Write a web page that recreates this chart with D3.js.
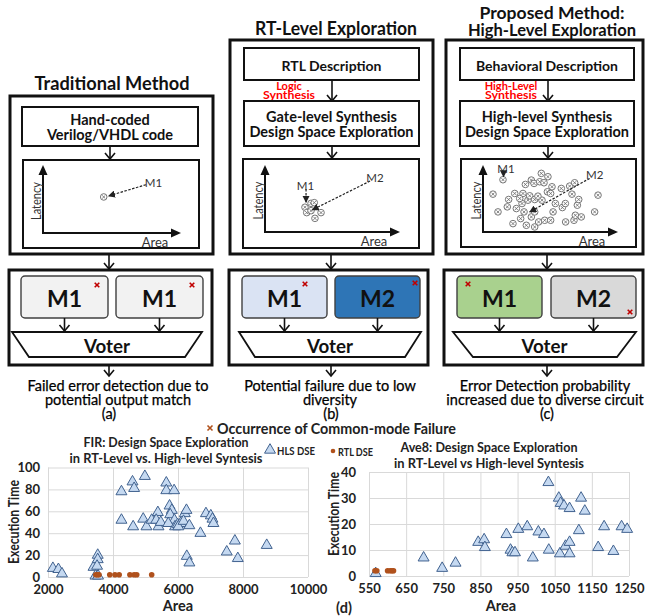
<!DOCTYPE html>
<html>
<head>
<meta charset="utf-8">
<script src="https://cdn.jsdelivr.net/npm/d3@7"></script>
<style>
  body { margin: 0; background: #fff; }
  svg { display: block; }
</style>
</head>
<body>
<div id="chart"></div>
<script>
// ---------------- data ----------------
// diagram texts, one entry per panel (a), (b), (c)
const panelTitles = [["Traditional Method"], ["RT-Level Exploration"], ["Proposed Method:", "High-Level Exploration"]];
const specLabels = [null, "RTL Description", "Behavioral Description"];
const synthLabels = [null, ["Logic", "Synthesis"], ["High-Level", "Synthesis"]];
const dseLabels = [["Hand-coded", "Verilog/VHDL code"], ["Gate-level Synthesis", "Design Space Exploration"], ["High-level Synthesis", "Design Space Exploration"]];
const moduleLabels = [["M1", "M1"], ["M1", "M2"], ["M1", "M2"]];
const captions = [["Failed error detection due to", "potential output match"], ["Potential failure due to low", "diversity"], ["Error Detection probability", "increased due to diverse circuit"]];
const panelTags = ["(a)", "(b)", "(c)"];

// sketch design points in the small area/latency plots (arbitrary 0-100 units)
const sketchA = [[44, 53]];
const sketchB = [[29.6, 37], [34.1, 42.8], [36.5, 43.8], [30.9, 28.9], [34.1, 31.8], [41.5, 28.9], [37, 20.4]];
const sketchC = [[14.8, 78], [7.4, 56.5], [11.1, 30], [18, 37.5], [19, 48.5], [23.5, 57.5], [24.7, 35], [22.2, 12.5],
  [27.9, 20], [29.6, 57.5], [28.9, 42.5], [31.4, 71], [33.3, 47.5], [34.6, 54], [35.8, 77.5], [37.8, 72.5],
  [38.3, 7.5], [41.2, 15], [43.2, 87.5], [42, 75], [45.2, 73.5], [43.7, 47.5], [38.3, 48.5], [40.7, 53.5],
  [45.7, 17.5], [48.1, 82.5], [50.1, 17.5], [51.1, 67.5], [51.9, 30], [47.7, 60], [50.1, 57.5], [53.6, 42.5],
  [58, 65], [58.8, 36.5], [61, 42.5], [61.2, 15], [64.2, 68.5], [65.9, 56.5], [67.4, 17.5], [67.9, 73.5],
  [69.9, 40], [70.9, 48.5], [68.4, 25], [72.8, 22.5], [82.7, 30], [85.2, 55], [32.1, 10], [35.8, 22.5],
  [30.4, 30], [38.3, 30], [27.2, 50]];

// FIR design space exploration: [area, execution time]
const firHLS = [[2150, 8], [2320, 7], [2430, 3],
  [3400, 9], [3530, 20], [3530, 16], [3510, 10], [3460, 1], [3540, 1],
  [4260, 78], [4260, 52], [4600, 87], [4650, 81], [4620, 46],
  [4980, 92], [4930, 53], [5030, 46], [5190, 52], [5380, 59], [5330, 52], [5400, 46], [5470, 50],
  [5640, 86], [5640, 79], [5880, 79],
  [5740, 65], [5810, 61], [5760, 57], [5890, 52], [5700, 49], [5910, 46], [5990, 48], [6080, 49], [6010, 46],
  [6210, 58], [6260, 61], [6170, 51], [6350, 47], [6690, 40],
  [6860, 58], [7010, 56], [7060, 53], [7090, 49],
  [7500, 23], [7750, 33], [7840, 17], [8730, 29], [6270, 19], [6350, 13]];
const firRTL = [[3470, 2], [3520, 2], [3570, 2], [3900, 2], [4060, 2], [4190, 2], [4520, 2], [4650, 2], [4730, 2], [5190, 2]];
const firXTicks = [2000, 4000, 6000, 8000, 10000];
const firYTicks = [0, 20, 40, 60, 80, 100];

// Ave8 design space exploration: [area, execution time]
const aveHLS = [[568, 1], [697, 7], [747, 3], [783, 5], [844, 13], [860, 14], [862, 11], [920, 16], [931, 10],
  [936, 9], [943, 9], [952, 18], [976, 19], [1006, 17], [1021, 16], [991, 7], [1034, 10], [1033, 36],
  [1061, 30], [1066, 28], [1075, 27], [1090, 26], [1121, 30], [1131, 25], [1115, 17.5], [1064, 8.6],
  [1079, 11.5], [1090, 13], [1090, 8.6], [1167, 11], [1183, 19], [1208, 9.5], [1230, 19], [1245, 18]];
const aveRTL = [[566, 2], [571, 2], [600, 2], [607, 2], [612, 2], [616, 2]];
const aveXTicks = [550, 650, 750, 850, 950, 1050, 1150, 1250];
const aveYTicks = [0, 10, 20, 30, 40];

const legendLabels = ["HLS DSE", "RTL DSE"];
const failureLabel = "Occurrence of Common-mode Failure";

// ---------------- layout & style ----------------
const W = 646, H = 616;
const FONT = 'Lato, "Open Sans", "DejaVu Sans", sans-serif';
const moduleFills = [["#f2f2f2", "#f2f2f2"], ["#dae3f3", "#2e75b6"], ["#a9d18e", "#d9d9d9"]];
const crossColor = "#c00000";

const layout = [
  { cx: 110, titleY: [83], titleW: [155], outer: [10, 96, 203, 158], spec: null, dse: [22, 107, 176, 39],
    plot: [23, 160, 176, 88], origin: [43, 233], tip: [181, 165],
    voter: [9, 270, 203, 95], mods: [21, 116], modW: 87, trap: [12, 202, 29, 185], capCx: 118,
    crosses: [["tr", -11, 9], ["tr", -11, 9]] },
  { cx: 332, titleY: [28], titleW: [162], outer: [230, 40, 203, 214], spec: [244, 48, 175, 32], synthCx: 289,
    dse: [244, 101, 175, 45], plot: [243, 159, 176, 89], origin: [265, 232], tip: [400, 165],
    voter: [229, 270, 199, 95], mods: [242, 335], modW: 85, trap: [239, 421, 255, 405], capCx: 330,
    crosses: [["tr", -22, 8], ["tr", -5, 7]] },
  { cx: 548, titleY: [12, 29], titleW: [145, 168], outer: [446, 40, 197, 214], spec: [460, 48, 174, 32], synthCx: 511,
    dse: [460, 101, 174, 45], plot: [461, 159, 175, 88], origin: [483, 232], tip: [618, 165],
    voter: [444, 270, 199, 95], mods: [457, 551], modW: 85, trap: [453, 636, 473, 617], capCx: 545,
    crosses: [["tl", 11, 8], ["br", -6, -6]] }
];

const svg = d3.select("#chart").append("svg")
  .attr("width", W).attr("height", H)
  .style("font-family", FONT);

// arrow head for the dashed pointer lines
svg.append("defs").append("marker")
  .attr("id", "head").attr("viewBox", "0 0 10 10").attr("refX", 9).attr("refY", 5)
  .attr("markerWidth", 6).attr("markerHeight", 6).attr("orient", "auto")
  .append("path").attr("d", "M0,0L10,5L0,10z").attr("fill", "#222");

function label(g, x, y, str, o = {}) {
  const t = g.append("text")
    .attr("x", x).attr("y", y)
    .attr("text-anchor", o.anchor || "middle")
    .attr("dominant-baseline", "central")
    .attr("fill", o.color || "#111")
    .style("font-size", (o.size || 13) + "px")
    .style("font-weight", o.weight || "normal")
    .text(str);
  if (o.width) t.attr("textLength", o.width).attr("lengthAdjust", "spacingAndGlyphs");
  if (o.rotate) t.attr("transform", `rotate(-90,${x},${y})`);
  return t;
}

function box(g, r, sw, fill, rx) {
  return g.append("rect").attr("x", r[0]).attr("y", r[1]).attr("width", r[2]).attr("height", r[3])
    .attr("rx", rx || 0).attr("fill", fill || "#fff").attr("stroke", "#111").attr("stroke-width", sw);
}

// down arrow with an open "v" head
function downArrow(g, x, y1, y2) {
  g.append("line").attr("x1", x).attr("x2", x).attr("y1", y1).attr("y2", y2)
    .attr("stroke", "#111").attr("stroke-width", 1.6);
  g.append("path").attr("d", `M${x - 5},${y2 - 6}L${x},${y2}L${x + 5},${y2 - 6}`)
    .attr("fill", "none").attr("stroke", "#111").attr("stroke-width", 1.6);
}

function cross(g, x, y, s, color, sw) {
  g.append("path").attr("d", `M${x - s},${y - s}L${x + s},${y + s}M${x - s},${y + s}L${x + s},${y - s}`)
    .attr("stroke", color).attr("stroke-width", sw);
}

function sketchPoint(g, x, y) {
  g.append("circle").attr("cx", x).attr("cy", y).attr("r", 3.3)
    .attr("fill", "#fff").attr("stroke", "#666").attr("stroke-width", 0.9);
  cross(g, x, y, 1.6, "#666", 0.8);
}

// ---------------- top diagram ----------------
layout.forEach((p, i) => {
  const g = svg.append("g");
  panelTitles[i].forEach((t, k) => label(g, p.cx + (i === 0 ? 2 : 4), p.titleY[k], t,
    { size: panelTitles[i].length > 1 ? 17 : 18, weight: "bold", width: p.titleW[k] }));

  box(g, p.outer, 3);
  if (p.spec) {
    box(g, p.spec, 2);
    label(g, p.spec[0] + p.spec[2] / 2, p.spec[1] + p.spec[3] / 2 + 1, specLabels[i], { size: 14, weight: "bold" });
    downArrow(g, p.cx, p.spec[1] + p.spec[3], p.dse[1]);
    label(g, p.synthCx, 85, synthLabels[i][0], { size: 11, weight: "bold", color: "#ff0000" });
    label(g, p.synthCx, 94.5, synthLabels[i][1], { size: 11, weight: "bold", color: "#ff0000", width: 52 });
  }
  box(g, p.dse, 2);
  const dy = p.dse[3] / 2;
  label(g, p.dse[0] + p.dse[2] / 2, p.dse[1] + dy - 7, dseLabels[i][0], { size: 14.5, weight: "bold" });
  label(g, p.dse[0] + p.dse[2] / 2, p.dse[1] + dy + 8, dseLabels[i][1], { size: 14.5, weight: "bold" });
  downArrow(g, p.cx, p.dse[1] + p.dse[3], p.plot[1] - 1);

  // small area / latency sketch
  box(g, p.plot, 2);
  const [ox, oy] = p.origin, [tx, ty] = p.tip;
  const sx = d3.scaleLinear().domain([0, 100]).range([ox, tx]);
  const sy = d3.scaleLinear().domain([0, 100]).range([oy, ty]);
  g.append("path").attr("d", `M${ox},${ty + 8}V${oy}H${tx - 8}`)
    .attr("fill", "none").attr("stroke", "#111").attr("stroke-width", 2);
  g.append("path").attr("d", `M${ox - 4.5},${ty + 10}L${ox},${ty}L${ox + 4.5},${ty + 10}z`).attr("fill", "#111");
  g.append("path").attr("d", `M${tx - 10},${oy - 4.5}L${tx},${oy}L${tx - 10},${oy + 4.5}z`).attr("fill", "#111");
  label(g, ox - 7, (oy + ty) / 2 + 2, "Latency", { size: 13, rotate: true, color: "#333", width: 38 });
  label(g, tx - 26, oy + 9, "Area", { size: 13, color: "#333" });

  const pts = [sketchA, sketchB, sketchC][i];
  pts.forEach(d => sketchPoint(g, sx(d[0]), sy(d[1])));

  const dash = (a, b) => g.append("line")
    .attr("x1", sx(a[0])).attr("y1", sy(a[1])).attr("x2", sx(b[0])).attr("y2", sy(b[1]))
    .attr("stroke", "#222").attr("stroke-width", 1.2).attr("stroke-dasharray", "2.5,1.5")
    .attr("marker-end", "url(#head)");
  const mLabel = (d, t) => label(g, sx(d[0]), sy(d[1]), t, { size: 11.5, color: "#333" });
  if (i === 0) {
    mLabel([80, 75], "M1");
    dash([74.6, 71], [47.5, 54.5]);
  } else if (i === 1) {
    mLabel([30, 70], "M1");
    dash([30.4, 64], [30.4, 44.5]);
    mLabel([81.5, 82], "M2");
    dash([77.8, 76], [35, 33]);
  } else {
    mLabel([17, 95.5], "M1");
    dash([15.2, 89], [15.2, 82.5]);
    mLabel([82.7, 86], "M2");
    dash([79, 80], [34.6, 30]);
  }

  // voter section
  downArrow(g, p.cx - 1, p.outer[1] + p.outer[3] + 1, p.voter[1] - 1);
  box(g, p.voter, 3);
  const my = p.voter[1] + 6, mh = 42;
  p.mods.forEach((mx, k) => {
    box(g, [mx, my, p.modW, mh], 1.4, moduleFills[i][k], 4).attr("stroke", "#404040");
    label(g, mx + p.modW / 2, my + mh / 2 + 1, moduleLabels[i][k], { size: 23, weight: "bold" });
    const c = p.crosses[k];
    const cx = c[0].endsWith("r") ? mx + p.modW + c[1] : mx + c[1];
    const cy = c[0].startsWith("b") ? my + mh + c[2] : my + c[2];
    cross(g, cx, cy, 2.3, crossColor, 1.6);
    downArrow(g, mx + p.modW / 2, my + mh, 331);
  });
  const [t1, t2, b1, b2] = p.trap;
  g.append("path").attr("d", `M${t1},332L${t2},332L${b2},357L${b1},357z`)
    .attr("fill", "#fff").attr("stroke", "#111").attr("stroke-width", 1.8);
  label(g, (t1 + t2) / 2, 345, "Voter", { size: 19, weight: "bold", width: 46 });

  downArrow(g, p.cx - 1, p.voter[1] + p.voter[3] + 1, 376);
  label(g, p.capCx, 385, captions[i][0], { size: 14.5, color: "#000" }).style("stroke", "#000").style("stroke-width", 0.25);
  label(g, p.capCx, 399, captions[i][1], { size: 14.5, color: "#000" }).style("stroke", "#000").style("stroke-width", 0.25);
  label(g, p.cx - 1, 413, panelTags[i], { size: 14.5, color: "#000" }).style("stroke", "#000").style("stroke-width", 0.25);
});

// ---------------- bottom scatter charts ----------------
function scatterChart(o) {
  const x = d3.scaleLinear().domain(o.xDomain).range(o.xRange);
  const y = d3.scaleLinear().domain(o.yDomain).range(o.yRange);
  const w = o.xRange[1] - o.xRange[0], h = o.yRange[0] - o.yRange[1];
  const g = svg.append("g");

  g.append("g").attr("transform", `translate(${o.xRange[0]},0)`)
    .call(d3.axisLeft(y).tickValues(o.yTicks).tickSize(-w).tickPadding(o.yPad).tickFormat(d3.format("d")));
  g.append("g").attr("transform", `translate(0,${o.yRange[0]})`)
    .call(d3.axisBottom(x).tickValues(o.xTicks).tickSize(-h).tickPadding(8).tickFormat(d3.format("d")));
  g.selectAll(".domain").remove();
  g.selectAll(".tick line").attr("stroke", "#d9d9d9");
  g.selectAll(".tick text").attr("fill", "#222")
    .style("font-family", FONT).style("font-size", "13px").style("font-weight", "bold");

  const tri = d3.symbol(d3.symbolTriangle, 52);
  g.append("g").selectAll("path").data(o.hls).join("path")
    .attr("d", tri)
    .attr("transform", d => `translate(${x(d[0])},${y(d[1])})`)
    .attr("fill", "#c5d9f1").attr("stroke", "#41628f").attr("stroke-width", 1);
  g.append("g").selectAll("circle").data(o.rtl).join("circle")
    .attr("cx", d => x(d[0])).attr("cy", d => y(d[1])).attr("r", 2.8)
    .attr("fill", "#b0511c");

  label(g, o.titleCx, o.titleY, o.title[0], { size: 14, weight: "bold", width: o.titleW[0], color: "#222" });
  label(g, o.titleCx, o.titleY + 16, o.title[1], { size: 14, weight: "bold", width: o.titleW[1], color: "#222" });
  label(g, o.yLabelX, o.yLabelY, "Execution Time", { size: 14.5, weight: "bold", rotate: true, width: 84, color: "#222" });
  label(g, o.xLabelCx, 605, "Area", { size: 14.5, weight: "bold", color: "#222" });
  return { x, y, g };
}

scatterChart({
  xDomain: [2000, 10000], xRange: [48, 308], yDomain: [0, 100], yRange: [577, 467.5],
  xTicks: firXTicks, yTicks: firYTicks, yPad: 8, hls: firHLS, rtl: firRTL,
  title: ["FIR: Design Space Exploration", "in  RT-Level vs. High-level Syntesis"], titleW: [165, 193],
  titleCx: 166, titleY: 441, yLabelX: 13, yLabelY: 522, xLabelCx: 178
});
scatterChart({
  xDomain: [550, 1250], xRange: [369, 629], yDomain: [0, 40], yRange: [576, 472],
  xTicks: aveXTicks, yTicks: aveYTicks, yPad: 13, hls: aveHLS, rtl: aveRTL,
  title: ["Ave8: Design Space Exploration", "in  RT-Level vs High-level Syntesis"], titleW: [177, 190],
  titleCx: 489, titleY: 446, yLabelX: 333, yLabelY: 514, xLabelCx: 501
});

// legend and shared note
const lg = svg.append("g");
lg.append("path").attr("d", d3.symbol(d3.symbolTriangle, 52)).attr("transform", "translate(270,450)")
  .attr("fill", "#c5d9f1").attr("stroke", "#41628f");
label(lg, 277, 450, legendLabels[0], { size: 12, weight: "bold", anchor: "start", width: 38, color: "#222" });
lg.append("circle").attr("cx", 333).attr("cy", 451).attr("r", 2.3).attr("fill", "#b0511c");
label(lg, 338, 451, legendLabels[1], { size: 12, weight: "bold", anchor: "start", width: 35, color: "#222" });
cross(lg, 210, 428, 2.5, "#b0511c", 1.6);
label(lg, 217, 428, failureLabel, { size: 15, weight: "bold", anchor: "start", width: 239, color: "#222" });
label(lg, 344, 607, "(d)", { size: 14.5, weight: "bold", color: "#222" });
</script>
</body>
</html>
